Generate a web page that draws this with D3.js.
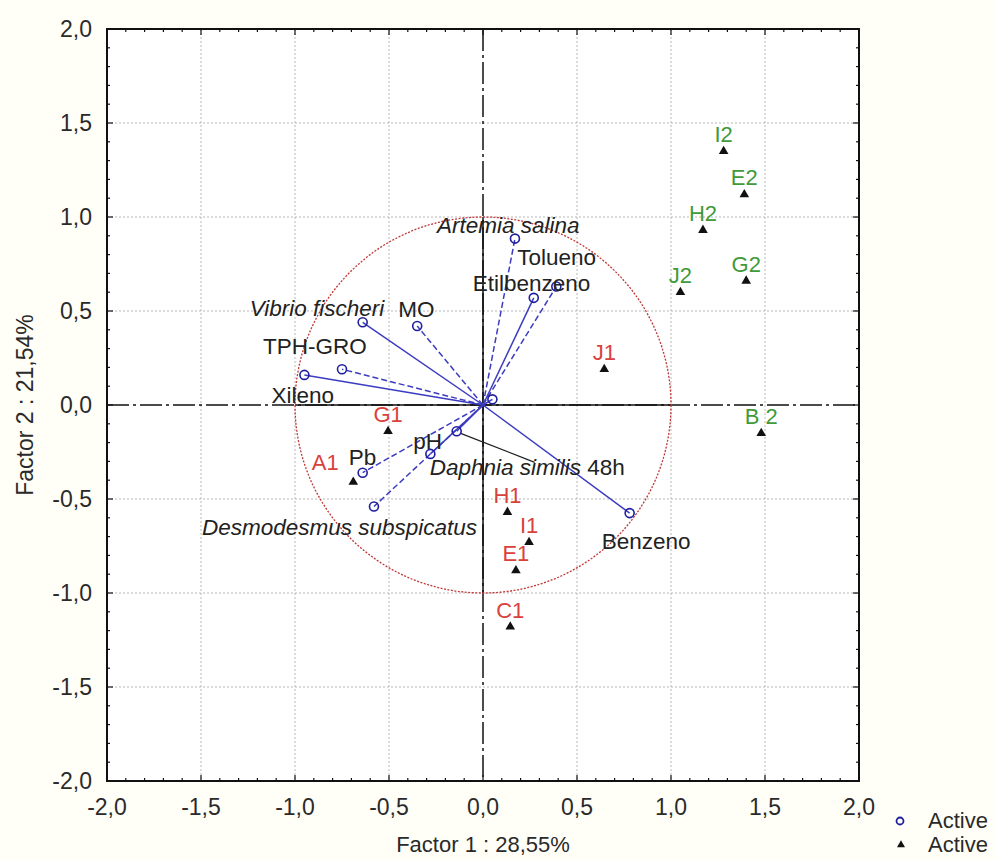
<!DOCTYPE html>
<html><head><meta charset="utf-8">
<script src="https://cdn.jsdelivr.net/npm/d3@7"></script>
<style>
html,body{margin:0;padding:0;background:#fffff8;}
svg{display:block;font-family:"Liberation Sans",Arial,sans-serif;}
</style></head>
<body>
<svg id="chart" width="995" height="860"></svg>
<script>
// ---- data ----
const tickValues = [-2.0,-1.5,-1.0,-0.5,0.0,0.5,1.0,1.5,2.0];
const tickLabels = ["-2,0","-1,5","-1,0","-0,5","0,0","0,5","1,0","1,5","2,0"];
const xTitle = "Factor 1 : 28,55%";
const yTitle = "Factor 2 : 21,54%";

const varNames = ["Artemia salina","Tolueno","Etilbenzeno","Vibrio fischeri","MO","TPH-GRO","Xileno","Pb","pH","Daphnia similis","Desmodesmus subspicatus","Benzeno",""];
const varX     = [0.17, 0.39, 0.27, -0.64, -0.35, -0.75, -0.95, -0.64, -0.28, -0.14, -0.58, 0.78, 0.05];
const varY     = [0.885, 0.63, 0.57, 0.44, 0.42, 0.19, 0.16, -0.36, -0.26, -0.14, -0.54, -0.575, 0.03];
const varDash  = [true, true, false, false, true, true, false, true, false, false, true, false, false];

const caseNames = ["I2","E2","H2","G2","J2","B 2","J1","G1","A1","H1","I1","E1","C1"];
const caseX     = [1.28, 1.39, 1.17, 1.40, 1.05, 1.48, 0.645, -0.505, -0.69, 0.13, 0.245, 0.175, 0.145];
const caseY     = [1.35, 1.12, 0.93, 0.66, 0.60, -0.15, 0.19, -0.14, -0.41, -0.57, -0.73, -0.88, -1.18];
const caseGroup = [2,2,2,2,2,2,1,1,1,1,1,1,1];

const legendLabels = ["Active","Active"];

// ---- layout ----
const L = 107, R = 859, T = 29, B = 781;
const FS = 23;
const x = d3.scaleLinear().domain([-2,2]).range([L,R]);
const y = d3.scaleLinear().domain([-2,2]).range([B,T]);
const svg = d3.select("#chart");

svg.append("rect").attr("x",L).attr("y",T).attr("width",R-L).attr("height",B-T).attr("fill","#fff");

// grid
const gridVals = tickValues.filter(v => v>-2 && v<2 && v!==0);
svg.append("g").selectAll("line").data(gridVals).join("line")
  .attr("x1",d=>x(d)).attr("x2",d=>x(d)).attr("y1",T).attr("y2",B)
  .attr("stroke","#b8b8b8").attr("stroke-width",1).attr("stroke-dasharray","2,2");
svg.append("g").selectAll("line").data(gridVals).join("line")
  .attr("y1",d=>y(d)).attr("y2",d=>y(d)).attr("x1",L).attr("x2",R)
  .attr("stroke","#b8b8b8").attr("stroke-width",1).attr("stroke-dasharray","2,2");

// zero lines
svg.append("line").attr("x1",L).attr("x2",R).attr("y1",y(0)).attr("y2",y(0))
  .attr("stroke","#111").attr("stroke-width",1.5).attr("stroke-dasharray","22,4,3,4");
svg.append("line").attr("y1",T).attr("y2",B).attr("x1",x(0)).attr("x2",x(0))
  .attr("stroke","#111").attr("stroke-width",1.5).attr("stroke-dasharray","22,4,3,4");
svg.append("line").attr("x1",x(-1)).attr("x2",x(1)).attr("y1",y(0)).attr("y2",y(0))
  .attr("stroke","#111").attr("stroke-width",1.5);
svg.append("line").attr("y1",y(1)).attr("y2",y(-1)).attr("x1",x(0)).attr("x2",x(0))
  .attr("stroke","#111").attr("stroke-width",1.5);

// unit circle
svg.append("circle").attr("cx",x(0)).attr("cy",y(0)).attr("r",x(1)-x(0))
  .attr("fill","none").attr("stroke","#c03838").attr("stroke-width",1.3).attr("stroke-dasharray","2,1.5");

// axes with inward ticks
const minor = d3.range(-20,21).map(i=>i/10);
function axisTicks(side){
  const g = svg.append("g");
  minor.forEach(v=>{
    const major = Math.abs(v*2 - Math.round(v*2))<1e-6;
    const len = major?6:3;
    let x1,x2,y1,y2;
    if(side==="bottom"){x1=x2=x(v);y1=B;y2=B-len;}
    if(side==="top"){x1=x2=x(v);y1=T;y2=T+len;}
    if(side==="left"){y1=y2=y(v);x1=L;x2=L+len;}
    if(side==="right"){y1=y2=y(v);x1=R;x2=R-len;}
    g.append("line").attr("x1",x1).attr("x2",x2).attr("y1",y1).attr("y2",y2)
      .attr("stroke","#111").attr("stroke-width",1.2);
  });
}
["bottom","top","left","right"].forEach(axisTicks);
svg.append("rect").attr("x",L).attr("y",T).attr("width",R-L).attr("height",B-T)
  .attr("fill","none").attr("stroke","#111").attr("stroke-width",2);

// tick labels
svg.append("g").selectAll("text").data(tickValues).join("text")
  .attr("x",d=>x(d)).attr("y",B+34).attr("text-anchor","middle")
  .attr("font-size",FS).attr("fill","#2a2a2a").text((d,i)=>tickLabels[i]);
svg.append("g").selectAll("text").data(tickValues).join("text")
  .attr("x",L-15).attr("y",d=>y(d)+8).attr("text-anchor","end")
  .attr("font-size",FS).attr("fill","#2a2a2a").text((d,i)=>tickLabels[i]);

// axis titles
svg.append("text").attr("x",x(0)).attr("y",852).attr("text-anchor","middle")
  .attr("font-size",22).attr("fill","#2a2a2a").text(xTitle);
svg.append("text").attr("transform",`translate(33,${y(0)}) rotate(-90)`).attr("text-anchor","middle")
  .attr("font-size",FS).attr("fill","#2a2a2a").text(yTitle);

// variable vectors
const vars = varNames.map((n,i)=>({name:n,x:varX[i],y:varY[i],dash:varDash[i]}));
svg.append("g").selectAll("line").data(vars).join("line")
  .attr("x1",x(0)).attr("y1",y(0)).attr("x2",d=>x(d.x)).attr("y2",d=>y(d.y))
  .attr("stroke","#3c3cc0").attr("stroke-width",1.5)
  .attr("stroke-dasharray",d=>d.dash?"6,3":null);

// leader line for Daphnia label
const dIdx = varNames.indexOf("Daphnia similis");
svg.append("line").attr("x1",x(varX[dIdx])+4).attr("y1",y(varY[dIdx])+2)
  .attr("x2",x(varX[dIdx])+78).attr("y2",y(varY[dIdx])+31)
  .attr("stroke","#222").attr("stroke-width",1.3);

svg.append("g").selectAll("circle").data(vars).join("circle")
  .attr("cx",d=>x(d.x)).attr("cy",d=>y(d.y)).attr("r",4.5)
  .attr("fill","none").attr("stroke","#1e1e9e").attr("stroke-width",1.6);

// variable labels: [dx, dy, italic]
const varLabelPos = {
  "Artemia salina":[-78,-6,true],
  "Tolueno":[-39,-22,false],
  "Etilbenzeno":[-61,-7,false],
  "Vibrio fischeri":[-113,-6,true],
  "MO":[-19,-9,false],
  "TPH-GRO":[-79,-15,false],
  "Xileno":[-33,28,false],
  "Pb":[-14,-8,false],
  "pH":[-17,-5,false],
  "Daphnia similis":[-27,44,true],
  "Desmodesmus subspicatus":[-172,28,true],
  "Benzeno":[-28,36,false]
};
vars.forEach(d=>{
  const p = varLabelPos[d.name]; if(!p) return;
  const t = svg.append("text").attr("x",x(d.x)+p[0]).attr("y",y(d.y)+p[1])
    .attr("font-size",22.5).attr("fill","#222");
  if(p[2]){
    t.append("tspan").attr("font-style","italic").text(d.name);
    if(d.name==="Daphnia similis") t.append("tspan").text(" 48h");
  } else t.text(d.name);
});

// cases
const cases = caseNames.map((n,i)=>({name:n,x:caseX[i],y:caseY[i],g:caseGroup[i]}));
const tri = d3.symbol().type(d3.symbolTriangle).size(40);
svg.append("g").selectAll("path").data(cases).join("path")
  .attr("d",tri).attr("transform",d=>`translate(${x(d.x)},${y(d.y)})`).attr("fill","#111");
const caseLabelPos = {"A1":[-28,-12]};
svg.append("g").selectAll("text").data(cases).join("text")
  .attr("x",d=>x(d.x)+((caseLabelPos[d.name]||[0,-9])[0]))
  .attr("y",d=>y(d.y)+((caseLabelPos[d.name]||[0,-9])[1]))
  .attr("text-anchor","middle").attr("font-size",22)
  .attr("fill",d=>d.g===1?"#d9413c":"#3f9a3a").text(d=>d.name);

// legend
svg.append("circle").attr("cx",900).attr("cy",821).attr("r",3.5)
  .attr("fill","none").attr("stroke","#1e1e9e").attr("stroke-width",1.8);
svg.append("path").attr("d",d3.symbol().type(d3.symbolTriangle).size(28)).attr("transform","translate(901,845)").attr("fill","#111");
svg.append("text").attr("x",928).attr("y",828).attr("font-size",22).attr("fill","#2a2a2a").text(legendLabels[0]);
svg.append("text").attr("x",928).attr("y",852).attr("font-size",22).attr("fill","#2a2a2a").text(legendLabels[1]);
</script>
</body></html>
